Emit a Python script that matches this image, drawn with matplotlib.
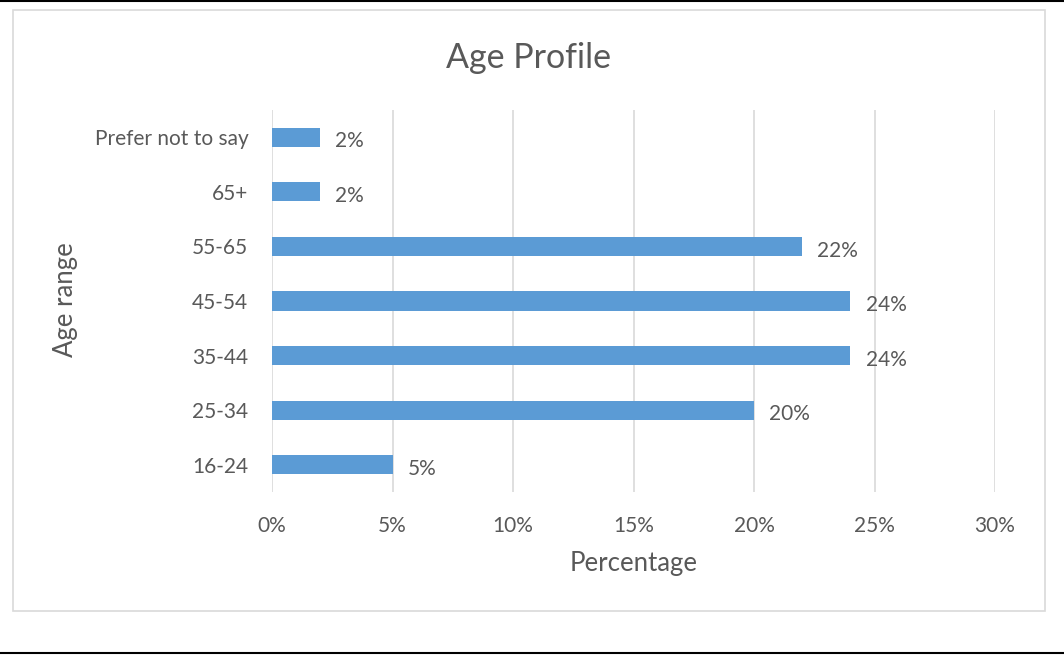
import numpy as np
import matplotlib; matplotlib.use("Agg")
import matplotlib.pyplot as plt
from matplotlib.patches import Rectangle
from matplotlib.lines import Line2D
from matplotlib.ticker import FuncFormatter

categories = ["16-24", "25-34", "35-44", "45-54", "55-65", "65+", "Prefer not to say"]
values = [5, 20, 24, 24, 22, 2, 2]
xticks = [0, 5, 10, 15, 20, 25, 30]

BAR = "#5B9BD5"; TXT = "#595959"; GRID = "#D9D9D9"
plt.rcParams["font.family"] = ["Lato", "DejaVu Sans"]

W, H = 1064, 656
fig = plt.figure(figsize=(W / 100, H / 100), dpi=100)
px = lambda x, y: (x / W, 1 - y / H)

# outer frame lines and chart border
fig.add_artist(Line2D([0, 1], [1 - 1 / H, 1 - 1 / H], color="black", lw=1.5))
fig.add_artist(Line2D([0, 1], [1 - 652.5 / H, 1 - 652.5 / H], color="black", lw=1.5))
x0, y0 = px(13, 611)
fig.add_artist(Rectangle((x0, y0), (1045 - 13) / W, (611 - 10) / H, fill=False,
                         edgecolor=GRID, lw=1.2))

l, b = px(272, 492)
r, t = px(995, 110)
ax = fig.add_axes([l, b, r - l, t - b])
y = np.arange(len(categories))
ax.barh(y, values, height=0.35, color=BAR, zorder=3)
for yi, v in zip(y, values):
    ax.annotate(f"{v}%", (v, yi), xytext=(11, -3), textcoords="offset points",
                va="center", ha="left", fontsize=15, color=TXT)

ax.set_xlim(0, 30); ax.set_ylim(-0.5, len(categories) - 0.5)
ax.set_xticks(xticks)
ax.xaxis.set_major_formatter(FuncFormatter(lambda v, p: f"{v:.0f}%"))
ax.set_yticks(y); ax.set_yticklabels(categories)
ax.tick_params(length=0, labelsize=15, labelcolor=TXT)
ax.tick_params(axis="x", pad=17)
ax.tick_params(axis="y", pad=17)
ax.grid(axis="x", color=GRID, lw=1.2, zorder=0)
for s in ax.spines.values(): s.set_visible(False)

fig.text(*px(528, 58), "Age Profile", ha="center", va="center", fontsize=24.5, color=TXT)
fig.text(*px(634, 564), "Percentage", ha="center", va="center", fontsize=18.5, color=TXT)
fig.text(*px(66, 300), "Age range", ha="center", va="center", rotation=90, fontsize=18.5, color=TXT)

fig.savefig("out.png", dpi=100)
